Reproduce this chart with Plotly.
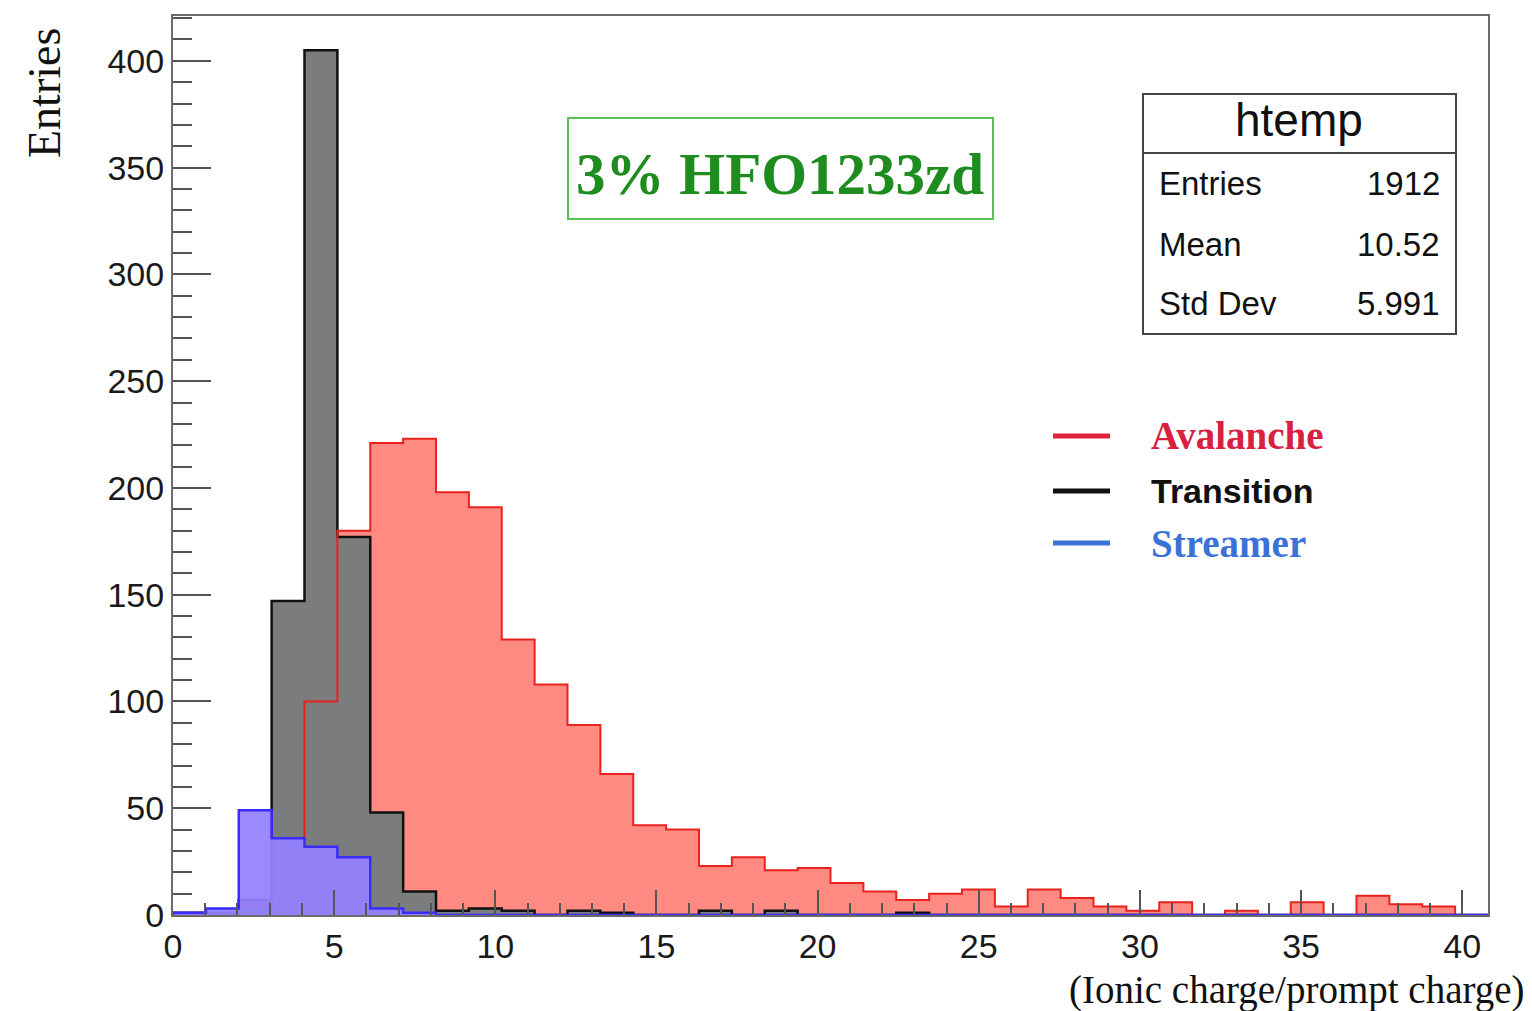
import plotly.graph_objects as go

# ---------------- data ----------------
bin_width = 1.02
n_bins = 40
avalanche = [0, 0, 5, 36, 100, 180, 221, 223, 198, 191,
             129, 108, 89, 66, 42, 40, 23, 27, 21, 22,
             15, 11, 7, 10, 12, 4, 12, 8, 4, 2,
             6, 0, 2, 0, 6, 0, 9, 5, 4, 0]
transition = [1, 1, 7, 147, 405, 177, 48, 11, 2, 3,
              2, 0, 2, 1, 0, 0, 2, 0, 2, 0,
              0, 0, 1, 0, 0, 0, 0, 0, 0, 0,
              0, 0, 0, 0, 0, 0, 0, 0, 0, 0]
streamer = [1, 3, 49, 36, 32, 27, 3, 1, 0, 0,
            0, 0, 0, 0, 0, 0, 0, 0, 0, 0,
            0, 0, 0, 0, 0, 0, 0, 0, 0, 0,
            0, 0, 0, 0, 0, 0, 0, 0, 0, 0]
x_tick_vals = [0, 5, 10, 15, 20, 25, 30, 35, 40]
y_tick_vals = [0, 50, 100, 150, 200, 250, 300, 350, 400]
stats_labels = ["Entries", "Mean", "Std Dev"]
stats_values = ["1912", "10.52", "5.991"]
legend_names = ["Avalanche", "Transition", "Streamer"]

edges = [i * bin_width for i in range(n_bins + 1)]


def step(values):
    xs = [0.0] + edges[:-1] + [edges[-1], edges[-1]]
    ys = [0] + list(values) + [values[-1], 0]
    return xs, ys


W, H = 1532, 1011
L, R, T, B = 173, 1488, 16, 915


def px(xp, yp):
    return (xp - L) / (R - L), (B - yp) / (B - T)


fig = go.Figure()

xa, ya = step(avalanche)
xt, yt = step(transition)
xs_, ys_ = step(streamer)

# avalanche fill
fig.add_trace(go.Scatter(x=xa, y=ya, mode="lines", line=dict(width=0, shape="hv"),
                         fill="tozeroy", fillcolor="#ff8a82", hoverinfo="skip", showlegend=False))
# transition fill + outline
fig.add_trace(go.Scatter(x=xt, y=yt, mode="lines", line=dict(width=2.5, shape="hv", color="#111111"),
                         fill="tozeroy", fillcolor="#7b7c7e", hoverinfo="skip", showlegend=False))
# avalanche outline
fig.add_trace(go.Scatter(x=xa, y=ya, mode="lines", line=dict(width=2, shape="hv", color="#e8221c"),
                         hoverinfo="skip", showlegend=False))
# streamer fill + outline
fig.add_trace(go.Scatter(x=xs_, y=ys_, mode="lines", line=dict(width=2.5, shape="hv", color="#3a2bff"),
                         fill="tozeroy", fillcolor="rgba(146,128,255,0.93)", hoverinfo="skip", showlegend=False))

tickfont = dict(family="Liberation Sans, Arial, sans-serif", size=34, color="#1a1a1a")

fig.update_xaxes(range=[0, n_bins * bin_width], tickvals=x_tick_vals, ticktext=[str(v) for v in x_tick_vals],
                 ticks="inside", ticklen=25, tickwidth=2, tickcolor="#555555",
                 minor=dict(ticks="inside", ticklen=12, tickwidth=2, tickcolor="#555555", dtick=1, tick0=0),
                 showline=True, linecolor="#6b6b6b", linewidth=2, mirror=True,
                 showgrid=False, zeroline=False, tickfont=tickfont, ticklabelstandoff=0)
fig.update_yaxes(range=[0, 421], tickvals=y_tick_vals, ticktext=[str(v) for v in y_tick_vals],
                 ticks="inside", ticklen=38, tickwidth=2, tickcolor="#555555",
                 minor=dict(ticks="inside", ticklen=19, tickwidth=2, tickcolor="#555555", dtick=10, tick0=0),
                 showline=True, linecolor="#6b6b6b", linewidth=2, mirror=True,
                 showgrid=False, zeroline=False, tickfont=tickfont, ticklabelstandoff=0)

shapes = []
annotations = []

# axis titles
x0, y0 = px(45, 93)
annotations.append(dict(x=x0, y=y0, xref="paper", yref="paper", text="Entries", textangle=-90,
                        showarrow=False, xanchor="center", yanchor="middle",
                        font=dict(family="Liberation Serif, Times New Roman, serif", size=46, color="#111111")))
x0, y0 = px(1527, 990)
annotations.append(dict(x=x0, y=y0, xref="paper", yref="paper", text="(Ionic charge/prompt charge)",
                        showarrow=False, xanchor="right", yanchor="middle",
                        font=dict(family="Liberation Serif, Times New Roman, serif", size=39, color="#111111")))

# green label box
gx0, gy0 = px(568, 219)
gx1, gy1 = px(993, 118)
shapes.append(dict(type="rect", xref="paper", yref="paper", x0=gx0, y0=gy0, x1=gx1, y1=gy1,
                   line=dict(color="#55c455", width=2), fillcolor="rgba(255,255,255,0)"))
x0, y0 = px(780, 174)
annotations.append(dict(x=x0, y=y0, xref="paper", yref="paper", text="<b>3% HFO1233zd</b>",
                        showarrow=False, xanchor="center", yanchor="middle",
                        font=dict(family="Liberation Serif, Times New Roman, serif", size=59, color="#1e8c1e")))

# stats box
sx0, sy0 = px(1143, 334)
sx1, sy1 = px(1456, 94)
shapes.append(dict(type="rect", xref="paper", yref="paper", x0=sx0, y0=sy0, x1=sx1, y1=sy1,
                   line=dict(color="#444444", width=2), fillcolor="white", layer="above"))
hx0, hy = px(1143, 153)
hx1, _ = px(1456, 153)
shapes.append(dict(type="line", xref="paper", yref="paper", x0=hx0, y0=hy, x1=hx1, y1=hy,
                   line=dict(color="#444444", width=2)))
x0, y0 = px(1299, 120)
annotations.append(dict(x=x0, y=y0, xref="paper", yref="paper", text="htemp", showarrow=False,
                        xanchor="center", yanchor="middle",
                        font=dict(family="Liberation Sans, Arial, sans-serif", size=46, color="#111111")))
row_y = [184, 244, 304]
for lab, val, ry in zip(stats_labels, stats_values, row_y):
    lx, ly = px(1157, ry)
    rx, _ = px(1442, ry)
    annotations.append(dict(x=lx, y=ly, xref="paper", yref="paper", text=lab, showarrow=False,
                            xanchor="left", yanchor="middle",
                            font=dict(family="Liberation Sans, Arial, sans-serif", size=33, color="#111111")))
    annotations.append(dict(x=rx, y=ly, xref="paper", yref="paper", text=val, showarrow=False,
                            xanchor="right", yanchor="middle",
                            font=dict(family="Liberation Sans, Arial, sans-serif", size=33, color="#111111")))

# legend
leg_colors = ["#e0223f", "#111111", "#3a72d8"]
leg_y = [436, 491, 543]
leg_fonts = [dict(family="Liberation Serif, Times New Roman, serif", size=39, color="#d9203e"),
             dict(family="Liberation Sans, Arial, sans-serif", size=34, color="#111111"),
             dict(family="Liberation Serif, Times New Roman, serif", size=39, color="#3a72d8")]
for name, col, ly, fnt in zip(legend_names, leg_colors, leg_y, leg_fonts):
    a0, b0 = px(1053, ly)
    a1, _ = px(1110, ly)
    shapes.append(dict(type="line", xref="paper", yref="paper", x0=a0, y0=b0, x1=a1, y1=b0,
                       line=dict(color=col, width=5)))
    tx, _ = px(1149, ly)
    annotations.append(dict(x=tx, y=b0, xref="paper", yref="paper", text="<b>" + name + "</b>",
                            showarrow=False, xanchor="left", yanchor="middle", font=fnt))

fig.update_layout(width=W, height=H, margin=dict(l=L, r=W - R, t=T, b=H - B),
                  paper_bgcolor="white", plot_bgcolor="white",
                  shapes=shapes, annotations=annotations, showlegend=False)

fig.write_html("out.html")
